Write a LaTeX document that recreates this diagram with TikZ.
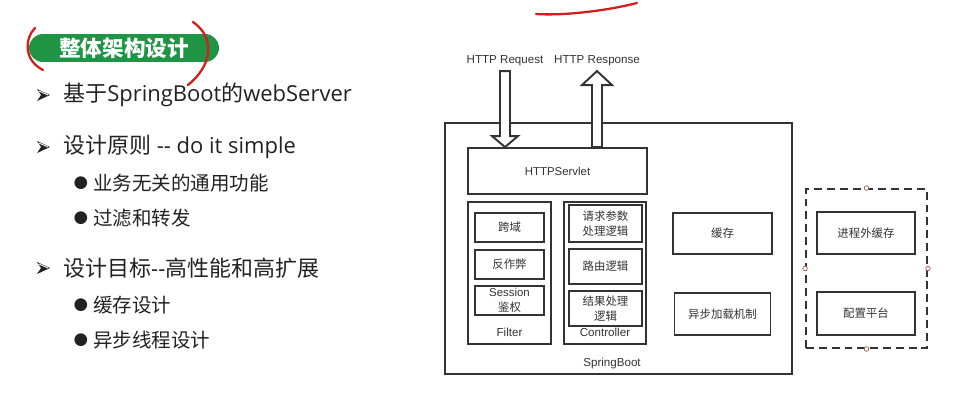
\documentclass[tikz,border=0pt]{standalone}
\usepackage{fontspec}
\setmainfont{Liberation Sans}
\newfontfamily\cjk{Noto Sans CJK SC}
\newfontfamily\latn{Open Sans}
\newfontfamily\symb{DejaVu Sans}
\usepackage{xcolor}
\usepackage{tikz}
\usetikzlibrary{positioning, calc, shapes.misc}

\definecolor{pillgreen}{HTML}{1E9444}
\definecolor{inkred}{HTML}{D21E1E}
\definecolor{boxline}{HTML}{333333}
\definecolor{slidetext}{HTML}{222222}

\begin{document}
\begin{tikzpicture}[
    x=0.02cm, y=-0.02cm,
    % Left slide styles
    pill/.style={rounded rectangle, fill=pillgreen, text=white, minimum width=3.8cm, minimum height=0.56cm, inner sep=0pt, font=\cjk\bfseries\fontsize{12.3}{15}\selectfont},
    dotbullet/.style={inner sep=0pt, text=slidetext, font=\symb\fontsize{9.5}{12}\selectfont},
    mainline/.style={anchor=west, inner sep=0pt, text=slidetext, font=\cjk\fontsize{12.5}{15}\selectfont},
    subline/.style={anchor=west, inner sep=0pt, text=slidetext, font=\cjk\fontsize{11.1}{14}\selectfont},
    arrowhd/.style={fill=slidetext},
    ink/.style={inkred, line width=1.3pt, line cap=round},
    % Diagram styles
    box/.style={rectangle, draw=boxline, line width=1.1pt, inner sep=0pt, align=center, text=boxline, font=\fontsize{6.5}{8.5}\selectfont},
    cjkbox/.style={box, font=\cjk\fontsize{6.5}{8.5}\selectfont},
    group/.style={box, dashed, dash pattern=on 4.5pt off 2.8pt},
    lbl/.style={inner sep=0pt, text=boxline, font=\fontsize{6.6}{8}\selectfont},
    hollow/.style={draw=boxline, line width=1.1pt, fill=white, line join=miter},
    handle/.style={draw=gray!70!red, fill=white, line width=0.4pt},
]

\fill[white] (0,0) rectangle (970,412);
\useasboundingbox (0,0) rectangle (970,412);

% Title pill and bullet list
\node[pill] (title) at (124,48) {整体架构设计};

\foreach \y in {95,147,268} {
    \fill[arrowhd] (37,\y-6) -- (50,\y) -- (37,\y+6) -- (41,\y) -- cycle;
    \draw[white, line width=0.5pt] (39,\y-4) -- (48,\y);
}

\node[mainline] (l1) at (63,95) {基于{\latn SpringBoot}的{\latn webServer}};

\node[mainline] (l2) at (63,147) {设计原则{\latn\ -{}- do it simple}};
\node[dotbullet] (d1) at (81,183) {●};
\node[subline] (s1) at (93,183) {业务无关的通用功能};
\node[dotbullet] (d2) at (81,218) {●};
\node[subline] (s2) at (93,218) {过滤和转发};

\node[mainline] (l3) at (63,268) {设计目标{\latn -{}-}高性能和高扩展};
\node[dotbullet] (d3) at (81,305) {●};
\node[subline] (s3) at (93,305) {缓存设计};
\node[dotbullet] (d4) at (81,340) {●};
\node[subline] (s4) at (93,340) {异步线程设计};

% Red pen marks
\draw[ink] (35,28) .. controls (25,38) and (23,60) .. (43,70);
\draw[ink] (193,22) .. controls (216,38) and (212,66) .. (188,85);
\draw[ink] (536,14) .. controls (566,16) and (610,10) .. (637,3);

% SpringBoot container
\node[box, minimum width=6.94cm, minimum height=5.02cm] (springboot) at (618.5,248.5) {};
\node[lbl] (sblbl) at (612,363) {SpringBoot};

\node[box, minimum width=3.58cm, minimum height=0.92cm] (servlet) at (557.5,171) {HTTPServlet};

% Filter column
\node[box, minimum width=1.66cm, minimum height=2.84cm] (filter) at (509.5,273) {};
\node[cjkbox, minimum width=1.38cm, minimum height=0.58cm] (kuayu) at (509.5,227.5) {跨域};
\node[cjkbox, minimum width=1.38cm, minimum height=0.58cm, below=0.12cm of kuayu] (fanzuobi) {反作弊};
\node[box, minimum width=1.38cm, minimum height=0.58cm, below=0.1cm of fanzuobi] (session) {Session\\{\cjk 鉴权}};
\node[lbl] (filterlbl) at (509.5,332) {Filter};

% Controller column
\node[box, minimum width=1.64cm, minimum height=2.84cm] (controller) at (605,273) {};
\node[cjkbox, minimum width=1.46cm, minimum height=0.74cm] (params) at (605.5,223.5) {请求参数\\处理逻辑};
\node[cjkbox, minimum width=1.46cm, minimum height=0.70cm, below=0.1cm of params] (route) {路由逻辑};
\node[cjkbox, minimum width=1.46cm, minimum height=0.70cm, below=0.1cm of route] (result) {结果处理\\逻辑};
\node[lbl] (ctrllbl) at (605,332) {Controller};

% Cache and async loading
\node[cjkbox, minimum width=1.98cm, minimum height=0.82cm] (cache) at (722.5,233.5) {缓存};
\node[cjkbox, minimum width=1.92cm, minimum height=0.84cm, below=0.74cm of cache] (async) {异步加载机制};

% External group
\node[group, minimum width=2.42cm, minimum height=3.18cm] (external) at (866.5,268.5) {};
\node[cjkbox, minimum width=1.96cm, minimum height=0.84cm] (extcache) at (866,233) {进程外缓存};
\node[cjkbox, minimum width=1.96cm, minimum height=0.86cm, below=0.72cm of extcache] (config) {配置平台};
\foreach \a in {north,south,east,west}
    \draw[handle] (external.\a) circle[radius=1.3pt];

% Request / response arrows
\node[lbl] (reqlbl) at (505,61) {HTTP Request};
\node[lbl] (reslbl) at (597,61) {HTTP Response};

\coordinate (reqtip) at (reqlbl.south |- servlet.north);
\draw[hollow] (reqtip) -- ++(-13,-11) -- ++(8,0) -- ++(0,-65) -- ++(10,0) -- ++(0,65) -- ++(8,0) -- cycle;

\coordinate (resbase) at (reslbl.south |- servlet.north);
\draw[hollow] (resbase) ++(-5,0) -- ++(0,-62) -- ++(-10,0) -- ++(15,-14) -- ++(15,14) -- ++(-10,0) -- ++(0,62) -- cycle;

\end{tikzpicture}
\end{document}
